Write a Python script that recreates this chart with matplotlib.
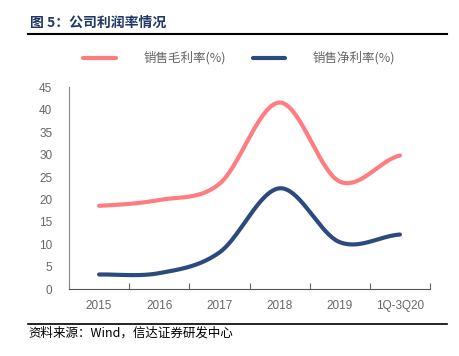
import numpy as np
import matplotlib
matplotlib.use('Agg')
import matplotlib.pyplot as plt
from matplotlib.lines import Line2D

plt.rcParams['font.family'] = ['Noto Sans CJK SC', 'DejaVu Sans']

# data
categories = ['2015', '2016', '2017', '2018', '2019', '1Q-3Q20']
gross_margin = [18.6, 19.9, 23.5, 41.6, 24.0, 29.8]
net_margin = [3.3, 3.6, 8.2, 22.5, 10.5, 12.2]
series_names = ['销售毛利率(%)', '销售净利率(%)']

RED = '#ff7c80'
NAVY = '#2c4a7c'
GRAY = '#666666'


def smooth(x, y, n=40):
    # Excel-like smoothed line (Catmull-Rom through the points)
    x = np.asarray(x, float)
    y = np.asarray(y, float)
    px = np.concatenate([[2 * x[0] - x[1]], x, [2 * x[-1] - x[-2]]])
    py = np.concatenate([[y[0]], y, [y[-1]]])
    xs, ys = [], []
    t = np.linspace(0, 1, n)
    for i in range(1, len(px) - 2):
        p0, p1, p2, p3 = py[i - 1], py[i], py[i + 1], py[i + 2]
        q0, q1, q2, q3 = px[i - 1], px[i], px[i + 1], px[i + 2]
        ys.append(0.5 * (2 * p1 + (-p0 + p2) * t + (2 * p0 - 5 * p1 + 4 * p2 - p3) * t ** 2
                         + (-p0 + 3 * p1 - 3 * p2 + p3) * t ** 3))
        xs.append(0.5 * (2 * q1 + (-q0 + q2) * t + (2 * q0 - 5 * q1 + 4 * q2 - q3) * t ** 2
                         + (-q0 + 3 * q1 - 3 * q2 + q3) * t ** 3))
    return np.concatenate(xs), np.concatenate(ys)


fig = plt.figure(figsize=(4.59, 3.56), dpi=100)
W, H = 459, 356
ax = fig.add_axes([69 / W, 1 - 289.3 / H, (430 - 69) / W, (289.3 - 87.3) / H])

x = np.arange(len(categories))
for vals, col in [(gross_margin, RED), (net_margin, NAVY)]:
    sx, sy = smooth(x, vals)
    ax.plot(sx, sy, color=col, lw=3, solid_capstyle='round')

ax.set_xlim(-0.5, len(categories) - 0.5)
ax.set_ylim(0, 45)
ax.set_yticks(range(0, 46, 5))
ax.set_xticks(x)
ax.set_xticklabels(categories)
ax.set_xticks(np.arange(-0.5, len(categories), 1), minor=True)
ax.tick_params(axis='x', which='major', length=0, pad=8, labelsize=8.5, colors=GRAY)
ax.tick_params(axis='x', which='minor', length=4, color='#666666', direction='in', width=0.8)
ax.tick_params(axis='y', length=0, pad=12, labelsize=8.5, colors=GRAY)
for lbl in ax.get_xticklabels() + ax.get_yticklabels():
    lbl.set_family(['Liberation Sans', 'DejaVu Sans'])
for s in ['top', 'right']:
    ax.spines[s].set_visible(False)
ax.spines['left'].set_color('#888888')
ax.spines['bottom'].set_color('#555555')
ax.spines['left'].set_linewidth(0.8)
ax.spines['bottom'].set_linewidth(0.8)

# title and rules
fig.text(30 / W, 1 - 23 / H, '图 5：公司利润率情况', fontsize=10, fontweight='bold',
         color='#1f3864', va='center', ha='left')
fig.add_artist(Line2D([28 / W, 447 / W], [1 - 34 / H] * 2, color='black', lw=1.5))
fig.add_artist(Line2D([28 / W, 447 / W], [1 - 324 / H] * 2, color='black', lw=1.2))
fig.text(28 / W, 1 - 333 / H, '资料来源：Wind，信达证券研发中心', fontsize=9, style='italic',
         color='black', va='center', ha='left')

# legend
for (x0, x1, tx), name, col in zip([(83, 116, 144), (253, 285, 313)], series_names, [RED, NAVY]):
    fig.add_artist(Line2D([x0 / W, x1 / W], [1 - 58 / H] * 2, color=col, lw=3, solid_capstyle='round'))
    fig.text(tx / W, 1 - 58 / H, name, fontsize=9, color=GRAY, va='center', ha='left')

fig.savefig('out.png', dpi=100)
